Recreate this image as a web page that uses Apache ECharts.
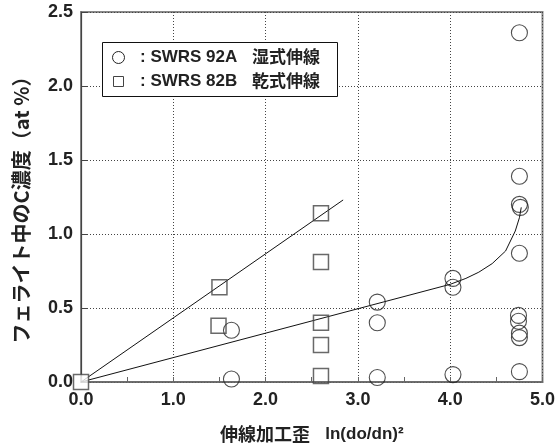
<!DOCTYPE html>
<html>
<head>
<meta charset="utf-8">
<script src="https://cdn.jsdelivr.net/npm/echarts@6/dist/echarts.min.js"></script>
<style>
html,body{margin:0;padding:0;background:#fff;}
#chart{width:558px;height:448px;}
</style>
</head>
<body>
<div id="chart"></div>
<script>
// SWRS 92A (wet drawing) - circles
const wetX = [1.63, 1.63, 3.21, 3.21, 3.21, 4.03, 4.03, 4.03, 4.75, 4.75, 4.75, 4.76, 4.75, 4.74, 4.74, 4.75, 4.75, 4.75];
const wetY = [0.35, 0.02, 0.54, 0.40, 0.03, 0.70, 0.64, 0.05, 2.36, 1.39, 1.20, 1.18, 0.87, 0.45, 0.41, 0.33, 0.30, 0.07];
// SWRS 82B (dry drawing) - squares
const dryX = [0.00, 1.50, 1.49, 2.60, 2.60, 2.60, 2.60, 2.60];
const dryY = [0.00, 0.64, 0.38, 1.14, 0.81, 0.40, 0.25, 0.04];
// trend lines
const dryLineX = [0, 2.84];
const dryLineY = [0, 1.23];
const wetLineX = [0, 4.0, 4.17, 4.31, 4.455, 4.6, 4.705, 4.75, 4.77];
const wetLineY = [0, 0.66, 0.70, 0.742, 0.80, 0.885, 1.02, 1.11, 1.18];
// axis ticks
const xTicks = ['0.0', '1.0', '2.0', '3.0', '4.0', '5.0'];
const yTicks = ['0.0', '0.5', '1.0', '1.5', '2.0', '2.5'];

const zip = (xs, ys) => xs.map((x, i) => [x, ys[i]]);
const latin = '"Liberation Sans", Arial, "Noto Sans CJK JP", sans-serif';
const cjk = '"Noto Sans CJK JP", "Liberation Sans", sans-serif';

const chart = echarts.init(document.getElementById('chart'), null, {renderer: 'canvas'});
chart.setOption({
  animation: false,
  backgroundColor: '#fff',
  grid: {left: 81, right: 12, top: 12, bottom: 66, show: true, borderColor: '#888', borderWidth: 2, backgroundColor: 'transparent'},
  xAxis: {
    type: 'value', min: 0, max: 5, interval: 1,
    name: '{a|伸線加工歪}　 {b|ln(do/dn)²}',
    nameLocation: 'middle', nameGap: 43,
    nameTextStyle: {rich: {
      a: {fontFamily: cjk, fontWeight: 'bold', fontSize: 18, color: '#222'},
      b: {fontFamily: latin, fontWeight: 'bold', fontSize: 17, color: '#222'}
    }},
    axisLine: {show: true, onZero: false, lineStyle: {color: '#666', width: 1.5}},
    axisTick: {show: true, inside: true, length: 5, lineStyle: {color: '#666'}},
    minorTick: {show: true, splitNumber: 2, length: 5, lineStyle: {color: '#666'}},
    axisLabel: {margin: 9, fontFamily: latin, fontWeight: 'bold', fontSize: 18, color: '#222',
      formatter: v => xTicks[Math.round(v)]},
    splitLine: {show: true, lineStyle: {color: '#444', type: [1, 2], width: 1}}
  },
  yAxis: {
    type: 'value', min: 0, max: 2.5, interval: 0.5,
    name: 'フェライト中のC濃度（at %）',
    nameLocation: 'middle', nameGap: 50, nameRotate: 90,
    nameTextStyle: {fontFamily: cjk, fontWeight: 'bold', fontSize: 20, color: '#222', padding: [0, 16, 0, 0]},
    axisLine: {show: true, onZero: false, lineStyle: {color: '#444', width: 1.2}},
    axisTick: {show: true, inside: true, length: 6, lineStyle: {color: '#444'}},
    axisLabel: {margin: 8, fontFamily: latin, fontWeight: 'bold', fontSize: 18, color: '#222',
      formatter: v => yTicks[Math.round(v * 2)]},
    splitLine: {show: true, lineStyle: {color: '#444', type: [1, 2], width: 1}}
  },
  series: [
    {type: 'line', data: zip(dryLineX, dryLineY), symbol: 'none', lineStyle: {color: '#111', width: 1}, z: 2},
    {type: 'line', data: zip(wetLineX, wetLineY), symbol: 'none', lineStyle: {color: '#111', width: 1}, z: 2},
    {type: 'scatter', name: 'SWRS 92A', data: zip(wetX, wetY), symbol: 'circle', symbolSize: 16,
      itemStyle: {color: 'rgba(0,0,0,0)', borderColor: '#222', borderWidth: 1.1}, z: 3},
    {type: 'scatter', name: 'SWRS 82B',
      data: zip(dryX, dryY).map((p, i) => i === 0 ? {value: p, itemStyle: {color: '#fff'}} : p),
      symbol: 'rect', symbolSize: 15,
      itemStyle: {color: 'rgba(0,0,0,0)', borderColor: '#444', borderWidth: 1.5}, z: 4, clip: false}
  ],
  graphic: [
    {type: 'rect', shape: {x: 102.5, y: 42.5, width: 235, height: 54}, style: {fill: '#fff', stroke: '#111', lineWidth: 1}, z: 100},
    {type: 'circle', shape: {cx: 118.5, cy: 57.5, r: 6}, style: {fill: '#fff', stroke: '#222', lineWidth: 1}, z: 101},
    {type: 'rect', shape: {x: 113.5, y: 76.5, width: 10, height: 10}, style: {fill: '#fff', stroke: '#444', lineWidth: 1}, z: 101},
    {type: 'text', x: 140, y: 57, style: {text: ': SWRS 92A', font: 'bold 17px ' + latin, fill: '#222', textVerticalAlign: 'middle'}, z: 101},
    {type: 'text', x: 252, y: 57, style: {text: '湿式伸線', font: 'bold 17px ' + cjk, fill: '#222', textVerticalAlign: 'middle'}, z: 101},
    {type: 'text', x: 140, y: 81, style: {text: ': SWRS 82B', font: 'bold 17px ' + latin, fill: '#222', textVerticalAlign: 'middle'}, z: 101},
    {type: 'text', x: 252, y: 81, style: {text: '乾式伸線', font: 'bold 17px ' + cjk, fill: '#222', textVerticalAlign: 'middle'}, z: 101}
  ]
});
</script>
</body>
</html>
